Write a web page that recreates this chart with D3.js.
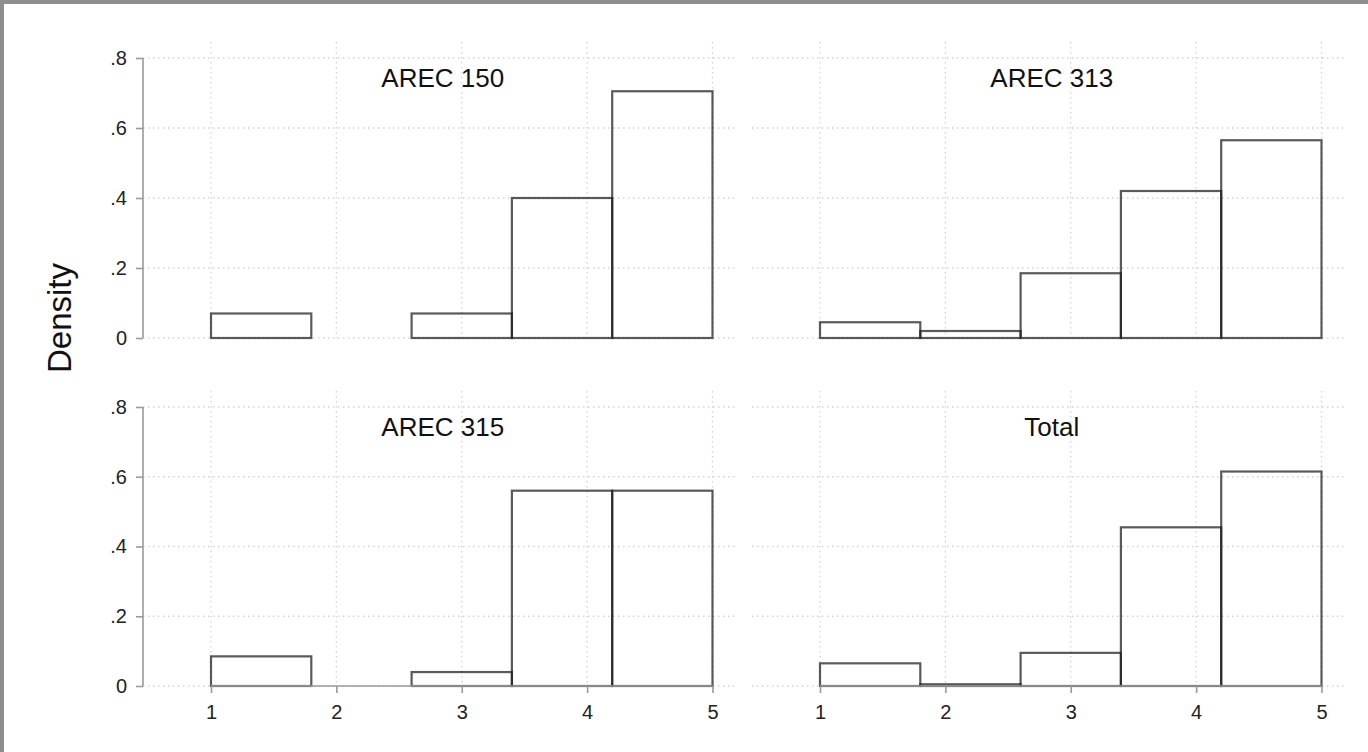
<!DOCTYPE html>
<html>
<head>
<meta charset="utf-8">
<script src="https://cdn.jsdelivr.net/npm/d3@7"></script>
<style>
  html, body { margin: 0; padding: 0; background: #fff; }
  svg { display: block; font-family: "Liberation Sans", Arial, sans-serif; }
  .tick text { font-size: 20px; fill: #222; }
</style>
</head>
<body>
<svg id="chart"></svg>
<script>
// histogram bins (width .8 starting at 1)
var binEdges = [1, 1.8, 2.6, 3.4, 4.2, 5]
var arec150 = [0.07, 0, 0.07, 0.40, 0.705]
var arec313 = [0.045, 0.02, 0.185, 0.42, 0.565]
var arec315 = [0.085, 0, 0.04, 0.56, 0.56]
var totalAll = [0.065, 0.005, 0.095, 0.455, 0.615]
var panelTitles = ["AREC 150", "AREC 313", "AREC 315", "Total"]
var yTicks = [0, 0.2, 0.4, 0.6, 0.8]
var yTickLabels = ["0", ".2", ".4", ".6", ".8"]
var xTicks = [1, 2, 3, 4, 5]

var width = 1368, height = 752
var svg = d3.select('#chart').attr('width', width).attr('height', height)

// grey frame on top and left
svg.append('rect').attr('x', 0).attr('y', 0).attr('width', width).attr('height', 4).attr('fill', '#8e8e8e')
svg.append('rect').attr('x', 0).attr('y', 0).attr('width', 4).attr('height', height).attr('fill', '#8e8e8e')

var cols = [{ x1: 211, x5: 712.5 }, { x1: 820, x5: 1321.5 }]
var rows = [{ y0: 338, y8: 58 }, { y0: 686, y8: 407 }]

var panels = [
  { title: panelTitles[0], values: arec150, col: 0, row: 0 },
  { title: panelTitles[1], values: arec313, col: 1, row: 0 },
  { title: panelTitles[2], values: arec315, col: 0, row: 1 },
  { title: panelTitles[3], values: totalAll, col: 1, row: 1 }
]

var gridColor = '#d4d4d4'
var axisColor = '#9a9a9a'

panels.forEach(function (p) {
  var c = cols[p.col], r = rows[p.row]
  var x = d3.scaleLinear().domain([1, 5]).range([c.x1, c.x5])
  var y = d3.scaleLinear().domain([0, 0.8]).range([r.y0, r.y8])
  var g = svg.append('g')

  var left = x(1) - 68, right = x(5) + 24
  var top = y(0.8) - 16

  // dotted grid
  g.selectAll('line.hgrid').data(yTicks).enter().append('line')
    .attr('x1', left).attr('x2', right)
    .attr('y1', function (d) { return y(d) }).attr('y2', function (d) { return y(d) })
    .attr('stroke', gridColor).attr('stroke-width', 1.3).attr('stroke-dasharray', '1.5,3.5')
  g.selectAll('line.vgrid').data(xTicks).enter().append('line')
    .attr('x1', function (d) { return x(d) }).attr('x2', function (d) { return x(d) })
    .attr('y1', top).attr('y2', y(0))
    .attr('stroke', gridColor).attr('stroke-width', 1.3).attr('stroke-dasharray', '1.5,3.5')

  // bars
  var bins = p.values.map(function (v, i) { return { x0: binEdges[i], x1: binEdges[i + 1], v: v } })
    .filter(function (b) { return b.v > 0 })
  g.selectAll('rect.bar').data(bins).enter().append('rect')
    .attr('x', function (b) { return x(b.x0) })
    .attr('y', function (b) { return y(b.v) })
    .attr('width', function (b) { return x(b.x1) - x(b.x0) })
    .attr('height', function (b) { return y(0) - y(b.v) })
    .attr('fill', 'none')
    .attr('stroke', '#1a1a1a').attr('stroke-opacity', 0.72).attr('stroke-width', 2.2)

  // y axis only on the left column
  if (p.col === 0) {
    var yAxis = g.append('g').attr('transform', 'translate(' + left + ',0)')
      .call(d3.axisLeft(y).tickValues(yTicks).tickSize(7).tickPadding(9)
        .tickFormat(function (d, i) { return yTickLabels[i] }))
      .attr('font-size', 20).attr('font-family', '"Liberation Sans", Arial, sans-serif')
    yAxis.select('.domain').remove()
    yAxis.append('line').attr('x1', 0).attr('x2', 0).attr('y1', y(0.8)).attr('y2', y(0))
      .attr('stroke', axisColor).attr('stroke-width', 1.6)
    yAxis.selectAll('.tick line').attr('stroke', axisColor).attr('stroke-width', 1.6)
  }

  // x axis only on the bottom row
  if (p.row === 1) {
    var xAxis = g.append('g').attr('transform', 'translate(0,' + y(0) + ')')
      .call(d3.axisBottom(x).tickValues(xTicks).tickSize(7).tickPadding(12)
        .tickFormat(d3.format('d')))
      .attr('font-size', 20).attr('font-family', '"Liberation Sans", Arial, sans-serif')
    xAxis.select('.domain').remove()
    xAxis.append('line').attr('x1', x(1)).attr('x2', x(5)).attr('y1', 0).attr('y2', 0)
      .attr('stroke', axisColor).attr('stroke-width', 1.6)
    xAxis.selectAll('.tick line').attr('stroke', axisColor).attr('stroke-width', 1.6)
  }

  // panel title
  g.append('text')
    .attr('x', x(3) - 19).attr('y', y(0.8) + 29)
    .attr('text-anchor', 'middle')
    .attr('font-size', 26).attr('fill', '#111')
    .text(p.title)
})

// shared y title
svg.append('text')
  .attr('transform', 'translate(71,' + 318 + ') rotate(-90)')
  .attr('text-anchor', 'middle')
  .attr('font-size', 33).attr('fill', '#111')
  .text('Density')
</script>
</body>
</html>
